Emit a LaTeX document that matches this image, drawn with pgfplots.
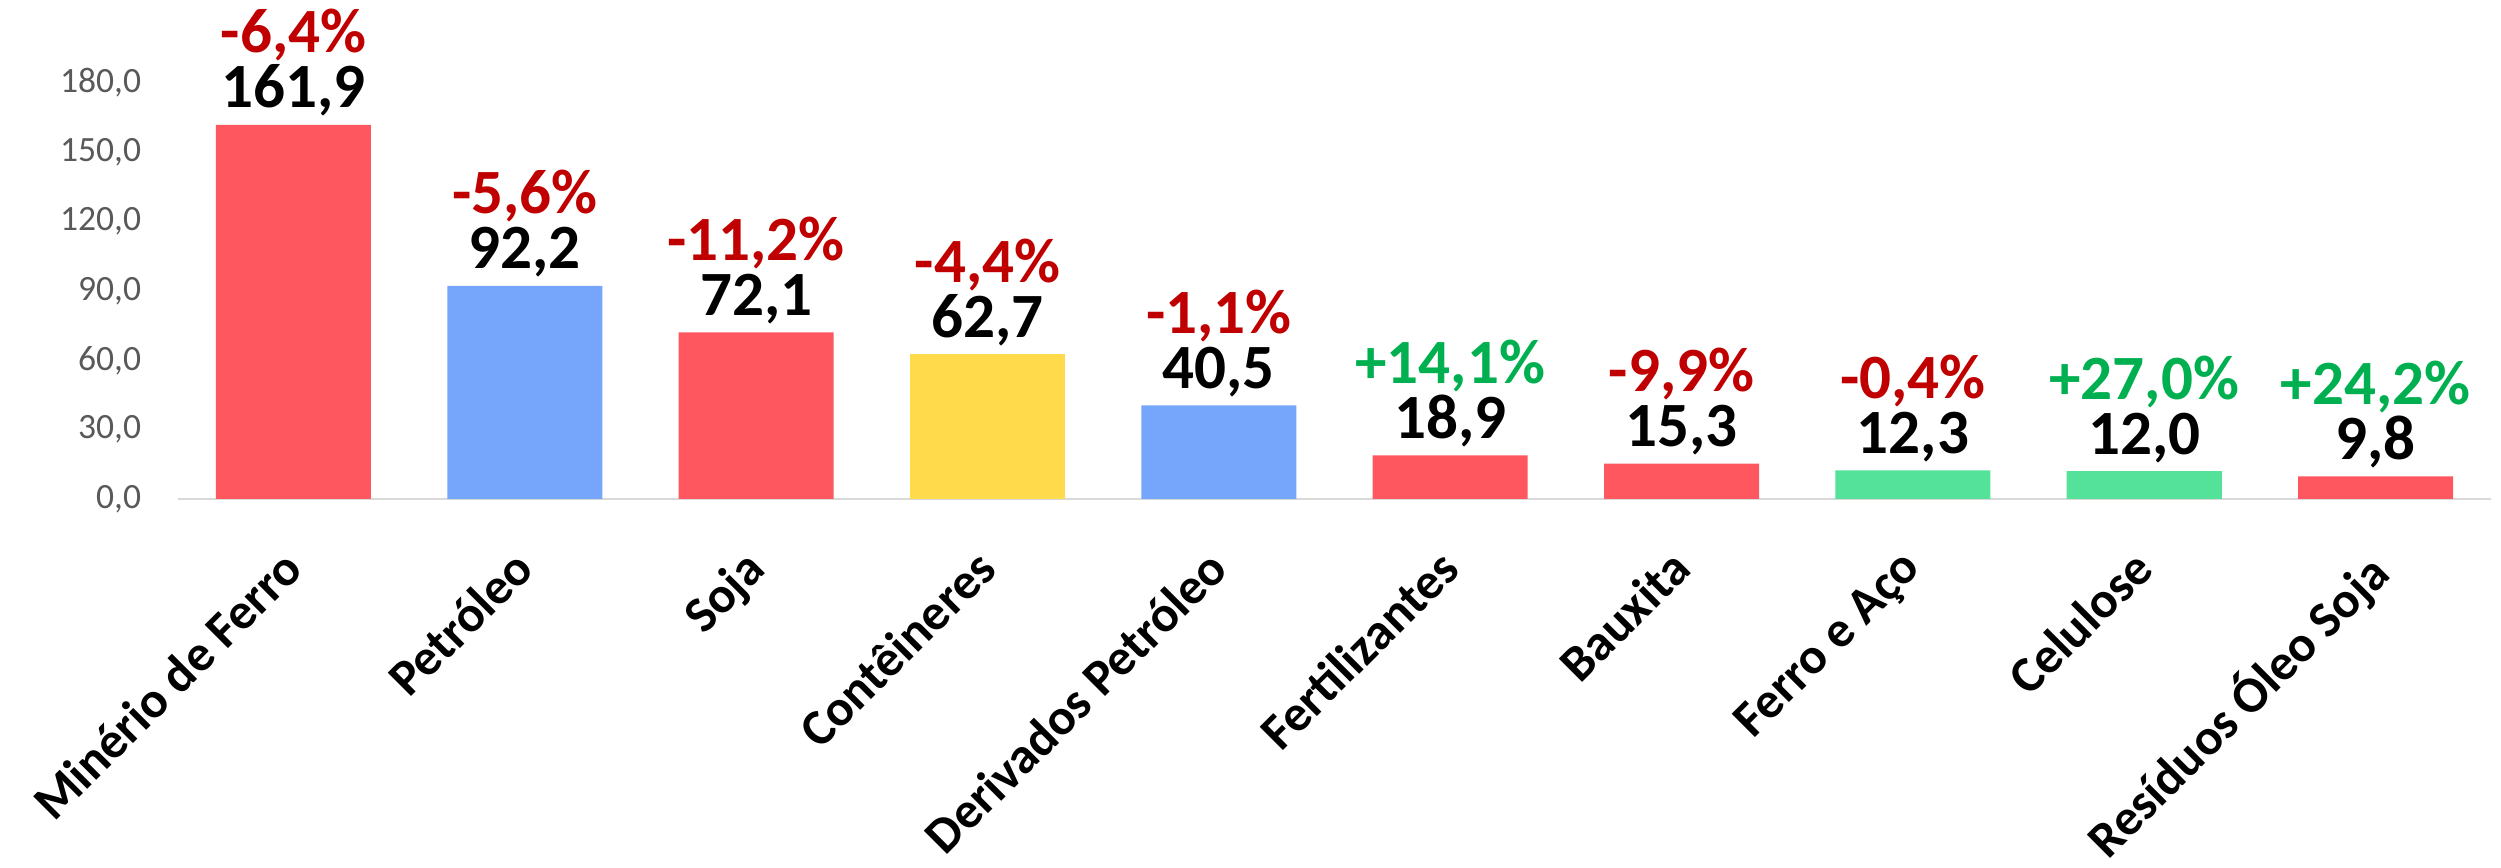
\documentclass[border=0pt]{standalone}
\usepackage{pgfplots}
\pgfplotsset{compat=1.18}
\usepackage{fontspec}
\setmainfont{Carlito}

\definecolor{barred}{HTML}{FF575F}
\definecolor{barblue}{HTML}{76A6FC}
\definecolor{baryellow}{HTML}{FFDA4A}
\definecolor{bargreen}{HTML}{54E29B}
\definecolor{pctred}{HTML}{C00000}
\definecolor{pctgreen}{HTML}{00B050}
\definecolor{tickgray}{HTML}{595959}
\definecolor{axgray}{HTML}{D9D9D9}

% two-line label: coloured change on top, value below
\DeclareRobustCommand\lab[3]{\vbox{\baselineskip=19.8pt\lineskiplimit=-100pt
  \halign{\hfil##\hfil\cr\textcolor{#1}{#2}\cr#3\cr}}}

\begin{document}
\begin{tikzpicture}
\useasboundingbox (-64pt,-132.8pt) rectangle (836.3pt,179.6pt);
\begin{axis}[
    scale only axis,
    width=832.8pt, height=149.7pt,
    xmin=-0.5, xmax=9.5,
    ymin=0, ymax=180,
    ytick={0,30,...,180},
    xtick={0,...,9},
    xticklabels={Minério de Ferro, Petróleo, Soja, Contêineres, Derivados Petróleo,
        Fertilizantes, Bauxita, Ferro e Aço, Celulose, Resíduos Óleo Soja},
    axis x line=bottom, axis y line=left,
    axis line style={-},
    y axis line style={draw=none},
    x axis line style={draw=axgray, line width=1pt},
    major tick length=0pt,
    tick style={draw=none},
    ybar, bar width=55.8pt,
    clip=false,
    /pgf/number format/.cd, fixed, fixed zerofill, precision=1, use comma,
        1000 sep={}, assume math mode=true,
    /pgfplots/.cd,
    yticklabel style={font=\fontsize{12.8}{14}\selectfont, text=tickgray,
        anchor=east, inner sep=0pt, xshift=-13pt},
    xticklabel style={font=\bfseries\fontsize{18.3}{20}\selectfont,
        xshift=-5pt, yshift=-17pt, rotate=45, anchor=north east, inner sep=0pt},
    point meta=explicit symbolic,
    nodes near coords={\pgfplotspointmeta},
    nodes near coords style={anchor=base, inner sep=0pt, yshift=6.1pt,
        font=\bfseries\fontsize{22.7}{19.8}\selectfont, text=black},
]
\addplot[fill=barred, draw=none, bar shift=0pt] coordinates {
    (0,161.9) [\lab{pctred}{-6,4\%}{161,9}]
    (2,72.1)  [\lab{pctred}{-11,2\%}{72,1}]
    (5,18.9)  [\lab{pctgreen}{+14,1\%}{18,9}]
    (6,15.3)  [\lab{pctred}{-9,9\%}{15,3}]
    (9,9.8)   [\lab{pctgreen}{+24,2\%}{9,8}]
};
\addplot[fill=barblue, draw=none, bar shift=0pt] coordinates {
    (1,92.2)  [\lab{pctred}{-5,6\%}{92,2}]
    (4,40.5)  [\lab{pctred}{-1,1\%}{40,5}]
};
\addplot[fill=baryellow, draw=none, bar shift=0pt] coordinates {
    (3,62.7)  [\lab{pctred}{-4,4\%}{62,7}]
};
\addplot[fill=bargreen, draw=none, bar shift=0pt] coordinates {
    (7,12.3)  [\lab{pctred}{-0,4\%}{12,3}]
    (8,12.0)  [\lab{pctgreen}{+27,0\%}{12,0}]
};
\end{axis}
\end{tikzpicture}
\end{document}
